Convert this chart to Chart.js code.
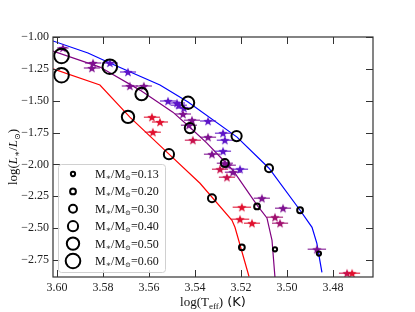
<!DOCTYPE html>
<html>
<head>
<meta charset="utf-8">
<script src="https://cdn.jsdelivr.net/npm/chart.js@4.4.0/dist/chart.umd.min.js"></script>
<style>
html, body { margin: 0; padding: 0; background: #fff; }
#wrap { width: 415px; height: 312px; }
</style>
</head>
<body>
<div id="wrap"><canvas id="chart"></canvas></div>
<script>
// ticks
var xTicks = [3.60, 3.58, 3.56, 3.54, 3.52, 3.50, 3.48];
var yTicks = [-1.00, -1.25, -1.50, -1.75, -2.00, -2.25, -2.50, -2.75];

// isochrone tracks (log Teff, log L)
var blueT = [3.6017, 3.5865, 3.5770, 3.5661, 3.5552, 3.5430, 3.5217, 3.5078, 3.4943, 3.4891, 3.4870, 3.4848];
var blueL = [-1.031, -1.126, -1.204, -1.291, -1.377, -1.511, -1.786, -2.030, -2.360, -2.494, -2.620, -2.847];
var purpleT = [3.6017, 3.5813, 3.5639, 3.5496, 3.5422, 3.5348, 3.5235, 3.5130, 3.5087, 3.5065, 3.5052];
var purpleL = [-1.110, -1.236, -1.417, -1.590, -1.708, -1.833, -2.046, -2.320, -2.420, -2.596, -2.890];
var redT = [3.6017, 3.5813, 3.5683, 3.5522, 3.5378, 3.5239, 3.5226, 3.5165];
var redL = [-1.250, -1.377, -1.629, -1.904, -2.148, -2.439, -2.494, -2.880];

// masses marked along each track
var masses = [0.13, 0.20, 0.30, 0.40, 0.50, 0.60];
var blueMassT = [3.4861, 3.4943, 3.5078, 3.5219, 3.5430, 3.5770];
var blueMassL = [-2.700, -2.360, -2.030, -1.778, -1.516, -1.233];
var purpleMassT = [3.5052, 3.5130, 3.5270, 3.5422, 3.5632, 3.5980];
var purpleMassL = [-2.667, -2.330, -1.990, -1.715, -1.448, -1.149];
var redMassT = [null, 3.5196, 3.5326, 3.5513, 3.5691, 3.5980];
var redMassL = [null, -2.651, -2.266, -1.920, -1.627, -1.300];

// observed stars
var starT = [3.5974, 3.5843, 3.5848, 3.5770, 3.5691, 3.5683, 3.5622, 3.5517, 3.5478, 3.5470,
             3.5448, 3.5452, 3.5413, 3.5343, 3.5426, 3.5587, 3.5552, 3.5583, 3.5409, 3.5343,
             3.5278, 3.5270, 3.5326, 3.5278, 3.5270, 3.5257, 3.5291, 3.5235, 3.5204, 3.5261,
             3.5109, 3.5196, 3.5017, 3.5204, 3.5052, 3.5152, 3.5030, 3.4870, 3.4739, 3.4717];
var starL = [-1.086, -1.204, -1.244, -1.204, -1.275, -1.385, -1.385, -1.503, -1.519, -1.535,
             -1.558, -1.605, -1.653, -1.660, -1.692, -1.629, -1.668, -1.747, -1.810, -1.786,
             -1.755, -1.810, -1.920, -1.896, -1.991, -2.006, -2.038, -2.061, -2.038, -2.101,
             -2.266, -2.336, -2.344, -2.431, -2.415, -2.462, -2.462, -2.667, -2.855, -2.855];
var starTerr = [0.0025, 0.0035, 0.0035, 0.0035, 0.0035, 0.0035, 0.0035, 0.0035, 0.0035, 0.0035,
                0.0035, 0.0035, 0.0035, 0.0035, 0.0035, 0.0035, 0.0035, 0.0035, 0.0035, 0.0035,
                0.0035, 0.0035, 0.0035, 0.0035, 0.0035, 0.0035, 0.0035, 0.0035, 0.0035, 0.0035,
                0.0035, 0.0040, 0.0035, 0.0040, 0.0035, 0.0035, 0.0035, 0.0040, 0.0035, 0.0035];
var starLerr = [0.015, 0.015, 0.015, 0.015, 0.015, 0.015, 0.015, 0.015, 0.015, 0.015,
                0.015, 0.015, 0.015, 0.015, 0.015, 0.015, 0.015, 0.015, 0.015, 0.015,
                0.015, 0.015, 0.015, 0.015, 0.015, 0.015, 0.015, 0.015, 0.015, 0.015,
                0.015, 0.015, 0.015, 0.015, 0.015, 0.015, 0.015, 0.015, 0.015, 0.015];
var starColor = ['P', 'P', 'P', 'V', 'V', 'P', 'P', 'V', 'V', 'V',
                 'V', 'P', 'P', 'V', 'P', 'R', 'R', 'R', 'C', 'P',
                 'V', 'V', 'P', 'V', 'P', 'P', 'C', 'P', 'V', 'C',
                 'P', 'R', 'P', 'R', 'M', 'R', 'M', 'P', 'C', 'R'];

var palette = { V: '#5c14c8', P: '#7e1090', M: '#a0106e', C: '#c8104c', R: '#e0102e' };

function pts(xs, ys) {
	return xs.map(function(x, i){ return { x: x, y: ys[i] }; });
}
function massRadius(m) { return 0.7 + 11 * m; }

// filled 5 point star images
var starCache = {};
function starImg(col) {
	if (starCache[col]) return starCache[col];
	var c = document.createElement('canvas');
	c.width = 12; c.height = 12;
	var g = c.getContext('2d');
	g.beginPath();
	for (var i = 0; i < 10; i++) {
		var r = (i % 2 == 0) ? 5 : 2.1;
		var a = -Math.PI / 2 + i * Math.PI / 5;
		var px = 6 + r * Math.cos(a), py = 6.5 + r * Math.sin(a);
		if (i == 0) g.moveTo(px, py); else g.lineTo(px, py);
	}
	g.closePath();
	g.fillStyle = col;
	g.fill();
	starCache[col] = c;
	return c;
}

function circleSet(xs, ys) {
	var data = [], radii = [];
	xs.forEach(function(x, i){
		if (x === null) return;
		data.push({ x: x, y: ys[i] });
		radii.push(massRadius(masses[i]));
	});
	return {
		data: data, showLine: false, pointRadius: radii, pointHoverRadius: radii,
		pointBackgroundColor: 'rgba(0,0,0,0)', pointBorderColor: '#000', pointBorderWidth: 2, order: 0
	};
}

function lineSet(xs, ys, col) {
	return {
		data: pts(xs, ys), showLine: true, borderColor: col, borderWidth: 1.2,
		pointRadius: 0, fill: false, tension: 0, order: 2
	};
}

var starColors = starColor.map(function(k){ return palette[k]; });

var datasets = [
	circleSet(blueMassT, blueMassL),
	circleSet(purpleMassT, purpleMassL),
	circleSet(redMassT, redMassL),
	{
		data: pts(starT, starL), showLine: false, order: 1,
		pointStyle: starColors.map(starImg), pointRadius: 5
	},
	lineSet(blueT, blueL, '#0000ff'),
	lineSet(purpleT, purpleL, '#800080'),
	lineSet(redT, redL, '#ff0000')
];
var STAR_INDEX = 3;

function hexA(hex, a) {
	var n = parseInt(hex.slice(1), 16);
	return 'rgba(' + (n >> 16) + ',' + ((n >> 8) & 255) + ',' + (n & 255) + ',' + a + ')';
}

// draws text made of pieces with different fonts, centred on cx
function drawRich(ctx, parts, cx, cy) {
	var total = 0;
	parts.forEach(function(p){ ctx.font = p.font; p.w = ctx.measureText(p.t).width; total += p.w; });
	var x = cx - total / 2;
	parts.forEach(function(p){
		ctx.font = p.font;
		ctx.fillText(p.t, x, cy + (p.dy || 0));
		x += p.w;
	});
}

var serif = '"Liberation Serif", "DejaVu Serif", serif';

var errorBars = {
	id: 'errorBars',
	beforeDatasetDraw: function(chart, args){
		if (args.index !== STAR_INDEX) return;
		var ctx = chart.ctx, xs = chart.scales.x, ys = chart.scales.y;
		ctx.save();
		ctx.lineWidth = 1.5;
		starT.forEach(function(t, i){
			var px = xs.getPixelForValue(t), py = ys.getPixelForValue(starL[i]);
			ctx.strokeStyle = hexA(starColors[i], 0.7);
			ctx.beginPath();
			ctx.moveTo(xs.getPixelForValue(t - starTerr[i]), py);
			ctx.lineTo(xs.getPixelForValue(t + starTerr[i]), py);
			ctx.moveTo(px, ys.getPixelForValue(starL[i] - starLerr[i]));
			ctx.lineTo(px, ys.getPixelForValue(starL[i] + starLerr[i]));
			ctx.stroke();
		});
		ctx.restore();
	}
};

var frame = {
	id: 'frame',
	afterDraw: function(chart){
		var ctx = chart.ctx, a = chart.chartArea, xs = chart.scales.x, ys = chart.scales.y;
		ctx.save();
		ctx.strokeStyle = '#333';
		ctx.lineWidth = 1.2;
		ctx.strokeRect(a.left, a.top, a.right - a.left, a.bottom - a.top);
		ctx.lineWidth = 1;
		ctx.beginPath();
		xTicks.forEach(function(v){
			var p = Math.round(xs.getPixelForValue(v)) + 0.5;
			ctx.moveTo(p, a.bottom); ctx.lineTo(p, a.bottom - 7);
			ctx.moveTo(p, a.top); ctx.lineTo(p, a.top + 7);
		});
		yTicks.forEach(function(v){
			var p = Math.round(ys.getPixelForValue(v)) + 0.5;
			ctx.moveTo(a.left, p); ctx.lineTo(a.left + 7, p);
			ctx.moveTo(a.right, p); ctx.lineTo(a.right - 7, p);
		});
		ctx.stroke();

		// axis titles
		ctx.fillStyle = '#111';
		ctx.textBaseline = 'alphabetic';
		drawRich(ctx, [
			{ t: 'log(T', font: '13px ' + serif },
			{ t: 'eff', font: '9px ' + serif, dy: 3 },
			{ t: ')', font: '13px ' + serif },
			{ t: ' (K)', font: '13px "DejaVu Sans", sans-serif' }
		], (a.left + a.right) / 2, 306);
		ctx.save();
		ctx.translate(17, (a.top + a.bottom) / 2);
		ctx.rotate(-Math.PI / 2);
		drawRich(ctx, [
			{ t: 'log(', font: '13px ' + serif },
			{ t: 'L', font: 'italic 13px ' + serif },
			{ t: '\u2217', font: '9px ' + serif, dy: 3 },
			{ t: '/', font: '13px ' + serif },
			{ t: 'L', font: 'italic 13px ' + serif },
			{ t: '\u2299', font: '8px ' + serif, dy: 3 },
			{ t: ')', font: '13px ' + serif }
		], 0, 0);
		ctx.restore();

		// legend of masses
		var bx = a.left + 5, by = a.bottom - 113, bw = 107, bh = 108;
		ctx.fillStyle = 'rgba(255,255,255,0.85)';
		ctx.strokeStyle = '#d0d0d0';
		ctx.lineWidth = 1;
		ctx.beginPath();
		ctx.roundRect(bx + 0.5, by + 0.5, bw, bh, 3);
		ctx.fill();
		ctx.stroke();
		masses.forEach(function(m, i){
			var cy = by + 10 + i * 17.4;
			ctx.strokeStyle = '#000';
			ctx.lineWidth = 2;
			ctx.beginPath();
			ctx.arc(bx + 15, cy, massRadius(m), 0, Math.PI * 2);
			ctx.stroke();
			ctx.fillStyle = '#111';
			var tx = bx + 37, ty = cy + 4;
			var parts = [
				{ t: 'M', font: '12px ' + serif },
				{ t: '\u2217', font: '8px ' + serif, dy: 2 },
				{ t: '/M', font: '12px ' + serif },
				{ t: '\u2299', font: '7px ' + serif, dy: 2 },
				{ t: '=' + m.toFixed(2), font: '12px ' + serif }
			];
			parts.forEach(function(p){
				ctx.font = p.font;
				ctx.fillText(p.t, tx, ty + (p.dy || 0));
				tx += ctx.measureText(p.t).width;
			});
		});
		ctx.restore();
	}
};

var canvas = document.getElementById('chart').getContext('2d');
window.hr = new Chart(canvas, {
	type: 'scatter',
	data: { datasets: datasets },
	options: {
		responsive: true,
		maintainAspectRatio: false,
		animation: false,
		layout: { padding: { top: 37, right: 42, left: 0, bottom: 0 } },
		plugins: { legend: { display: false }, tooltip: { enabled: false } },
		scales: {
			x: {
				type: 'linear', reverse: true, min: 3.4626, max: 3.6017,
				afterBuildTicks: function(s){ s.ticks = xTicks.map(function(v){ return { value: v }; }); },
				afterFit: function(s){ s.height = 35; },
				ticks: {
					callback: function(v){ return v.toFixed(2); },
					font: { family: serif, size: 12 }, color: '#222', padding: 4,
					maxRotation: 0, autoSkip: false
				},
				grid: { display: false, drawTicks: false },
				border: { display: false }
			},
			y: {
				type: 'linear', min: -2.884, max: -1.0,
				afterBuildTicks: function(s){ s.ticks = yTicks.map(function(v){ return { value: v }; }); },
				afterFit: function(s){ s.width = 53; },
				ticks: {
					callback: function(v){ return v.toFixed(2).replace('-', '\u2212'); },
					font: { family: serif, size: 12 }, color: '#222', padding: 4,
					autoSkip: false
				},
				grid: { display: false, drawTicks: false },
				border: { display: false }
			}
		}
	},
	plugins: [errorBars, frame]
});
</script>
</body>
</html>
